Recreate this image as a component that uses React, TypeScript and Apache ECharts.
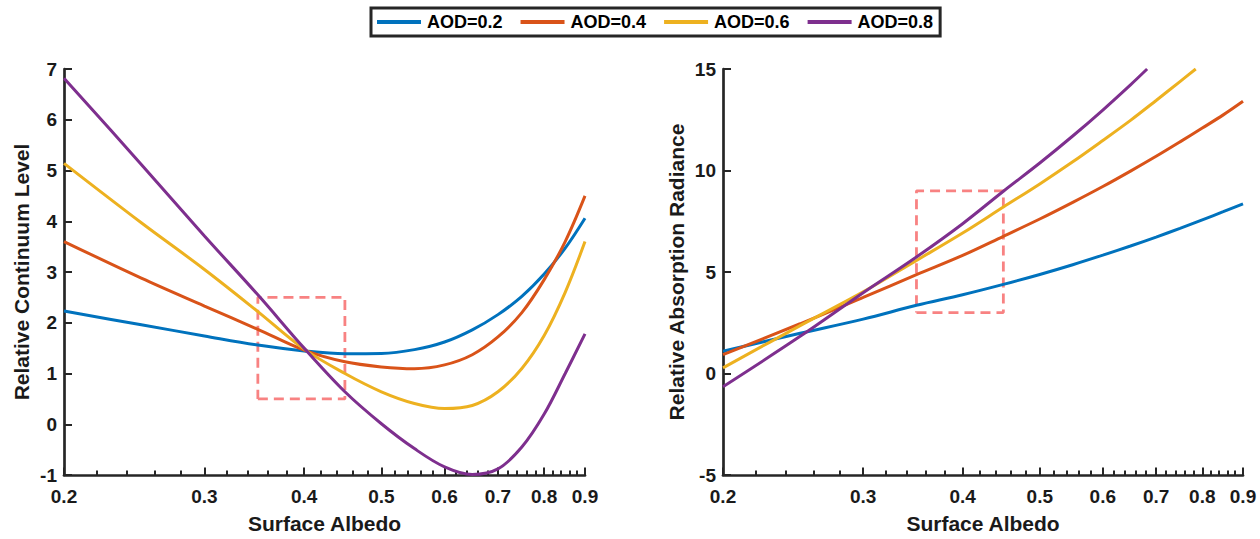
import React, { useEffect, useRef } from "react";
import * as echarts from "echarts";

// ---------- data ----------
const aodNames = ["AOD=0.2", "AOD=0.4", "AOD=0.6", "AOD=0.8"];

// Left panel: Relative Continuum Level vs Surface Albedo
const albedoLeft = [0.2, 0.25, 0.3, 0.35, 0.4, 0.45, 0.5, 0.55, 0.6, 0.65, 0.7, 0.75, 0.8, 0.85, 0.9];
const contAOD02 = [2.23, 1.96, 1.74, 1.56, 1.445, 1.39, 1.395, 1.47, 1.62, 1.86, 2.16, 2.52, 2.96, 3.47, 4.06];
const contAOD04 = [3.6, 2.88, 2.33, 1.87, 1.46, 1.23, 1.13, 1.095, 1.17, 1.37, 1.72, 2.2, 2.85, 3.6, 4.5];
const contAOD06 = [5.14, 3.97, 3.05, 2.22, 1.48, 1.0, 0.64, 0.41, 0.31, 0.37, 0.64, 1.1, 1.75, 2.6, 3.6];
const contAOD08 = [6.82, 5.12, 3.71, 2.55, 1.5, 0.64, 0.01, -0.48, -0.84, -0.99, -0.88, -0.45, 0.2, 1.0, 1.78];

// Right panel: Relative Absorption Radiance vs Surface Albedo
const albedoRight = [0.2, 0.25, 0.3, 0.35, 0.4, 0.45, 0.5, 0.55, 0.6, 0.65, 0.7, 0.75, 0.8, 0.85, 0.9];
const albedoRightAOD06 = [0.2, 0.25, 0.3, 0.35, 0.4, 0.45, 0.5, 0.55, 0.6, 0.65, 0.7, 0.75, 0.785];
const albedoRightAOD08 = [0.2, 0.25, 0.3, 0.35, 0.4, 0.45, 0.5, 0.55, 0.6, 0.65, 0.682];
const radAOD02 = [1.1, 1.98, 2.68, 3.36, 3.88, 4.39, 4.88, 5.36, 5.83, 6.28, 6.72, 7.15, 7.57, 7.97, 8.36];
const radAOD04 = [0.93, 2.45, 3.75, 4.87, 5.82, 6.76, 7.61, 8.43, 9.21, 9.97, 10.7, 11.41, 12.09, 12.74, 13.41];
const radAOD06 = [0.28, 2.36, 4.02, 5.57, 6.92, 8.2, 9.34, 10.43, 11.48, 12.47, 13.45, 14.38, 15.0];
const radAOD08 = [-0.65, 1.83, 3.98, 5.74, 7.38, 8.98, 10.37, 11.7, 12.98, 14.22, 15.0];

// Dashed highlight boxes [albedo, value] corners
const boxLeftX = [0.35, 0.45, 0.45, 0.35, 0.35];
const boxLeftY = [0.5, 0.5, 2.5, 2.5, 0.5];
const boxRightX = [0.35, 0.45, 0.45, 0.35, 0.35];
const boxRightY = [3, 3, 9, 9, 3];

// Axis ticks
const xMajorTicks = [0.2, 0.3, 0.4, 0.5, 0.6, 0.7, 0.8, 0.9];
const xMinorTicks = [
  0.22, 0.24, 0.26, 0.28, 0.32, 0.34, 0.36, 0.38, 0.42, 0.44, 0.46, 0.48,
  0.52, 0.54, 0.56, 0.58, 0.62, 0.64, 0.66, 0.68, 0.72, 0.74, 0.76, 0.78,
  0.82, 0.84, 0.86, 0.88,
];
const xRange = [0.2, 0.9];
const leftYRange = [-1, 7, 1];
const rightYRange = [-5, 15, 5];

// ---------- styles ----------
const FONT = 'Arial, "Liberation Sans", Helvetica, sans-serif';
const AXIS_COLOR = "#262626";
const TEXT_COLOR = "#1a1a1a";
const COLORS = ["#0072BD", "#D95319", "#EDB120", "#7E2F8E"];
const BOX_COLOR = "#F88282";

const zip = (xs: number[], ys: number[]) => ys.map((y, i) => [xs[i], y]);

function makeXAxes(gridIndex: number) {
  const lmin = Math.log(xRange[0]);
  const lmax = Math.log(xRange[1]);
  return [
    {
      type: "log",
      gridIndex,
      logBase: 10,
      min: xRange[0],
      max: xRange[1],
      position: "bottom",
      axisLine: { show: true, onZero: false, lineStyle: { color: AXIS_COLOR, width: 2.7 } },
      axisTick: { show: false },
      axisLabel: { show: false },
      splitLine: { show: false },
      minorTick: { show: false },
      minorSplitLine: { show: false },
    },
    {
      type: "value",
      gridIndex,
      min: lmin,
      max: lmax,
      position: "bottom",
      axisLine: { show: false, onZero: false },
      axisTick: {
        show: true,
        inside: true,
        length: 7.5,
        customValues: xMajorTicks.map((t) => Math.log(t)),
        lineStyle: { color: AXIS_COLOR, width: 2 },
      },
      axisLabel: {
        show: true,
        customValues: xMajorTicks.map((t) => Math.log(t)),
        formatter: (v: number) => String(Number(Math.exp(v).toFixed(1))),
        color: TEXT_COLOR,
        fontFamily: FONT,
        fontWeight: "bold",
        fontSize: 19,
        margin: 12,
      },
      splitLine: { show: false },
      name: "Surface Albedo",
      nameLocation: "middle",
      nameGap: 38,
      nameTextStyle: { color: TEXT_COLOR, fontFamily: FONT, fontWeight: "bold", fontSize: 21 },
    },
    {
      type: "value",
      gridIndex,
      min: lmin,
      max: lmax,
      position: "bottom",
      axisLine: { show: false, onZero: false },
      axisTick: {
        show: true,
        inside: true,
        length: 4.5,
        customValues: xMinorTicks.map((t) => Math.log(t)),
        lineStyle: { color: AXIS_COLOR, width: 2 },
      },
      axisLabel: { show: false },
      splitLine: { show: false },
    },
  ];
}

function makeYAxis(gridIndex: number, range: number[], name: string, nameGap: number) {
  return {
    type: "value",
    gridIndex,
    min: range[0],
    max: range[1],
    interval: range[2],
    axisLine: { show: true, onZero: false, lineStyle: { color: AXIS_COLOR, width: 2.7 } },
    axisTick: { show: true, inside: true, length: 8, lineStyle: { color: AXIS_COLOR, width: 2 } },
    axisLabel: {
      color: TEXT_COLOR,
      fontFamily: FONT,
      fontWeight: "bold",
      fontSize: 19,
      margin: 7,
    },
    splitLine: { show: false },
    name,
    nameLocation: "middle",
    nameGap,
    nameTextStyle: { color: TEXT_COLOR, fontFamily: FONT, fontWeight: "bold", fontSize: 21 },
  };
}

function lineSeries(name: string, color: string, data: number[][], xAxisIndex: number, yAxisIndex: number) {
  return {
    type: "line",
    name,
    xAxisIndex,
    yAxisIndex,
    data,
    smooth: 0.35,
    symbol: "none",
    clip: true,
    lineStyle: { color, width: 3 },
    itemStyle: { color },
    z: 3,
  };
}

function boxSeries(xs: number[], ys: number[], xAxisIndex: number, yAxisIndex: number) {
  return {
    type: "line",
    name: "box",
    xAxisIndex,
    yAxisIndex,
    data: zip(xs, ys),
    smooth: false,
    symbol: "none",
    silent: true,
    lineStyle: { color: BOX_COLOR, width: 2.8, type: [10, 6] },
    itemStyle: { color: BOX_COLOR },
    z: 2,
  };
}

export default function App() {
  const ref = useRef<HTMLDivElement>(null);

  useEffect(() => {
    if (!ref.current) return;
    const chart = echarts.init(ref.current, null, { renderer: "svg" });
    const leftData = [contAOD02, contAOD04, contAOD06, contAOD08].map((ys) => zip(albedoLeft, ys));
    const rightData = [
      zip(albedoRight, radAOD02),
      zip(albedoRight, radAOD04),
      zip(albedoRightAOD06, radAOD06),
      zip(albedoRightAOD08, radAOD08),
    ];
    const option: any = {
      animation: false,
      backgroundColor: "#ffffff",
      textStyle: { fontFamily: FONT },
      legend: {
        data: aodNames,
        left: 371,
        top: 8,
        orient: "horizontal",
        icon: "rect",
        itemWidth: 44,
        itemHeight: 4,
        itemGap: 18,
        padding: [5, 7, 5, 6],
        borderColor: "#262626",
        borderWidth: 3,
        backgroundColor: "#ffffff",
        textStyle: { fontFamily: FONT, fontWeight: "bold", fontSize: 18, color: "#000", padding: [0, 0, 0, 1] },
      },
      grid: [
        { left: 64, right: 1260 - 585, top: 69, bottom: 539 - 476, containLabel: false },
        { left: 723, right: 1260 - 1243, top: 69, bottom: 539 - 477, containLabel: false },
      ],
      xAxis: [...makeXAxes(0), ...makeXAxes(1)],
      yAxis: [
        makeYAxis(0, leftYRange, "Relative Continuum Level", 32),
        makeYAxis(1, rightYRange, "Relative Absorption Radiance", 36),
      ],
      series: [
        boxSeries(boxLeftX, boxLeftY, 0, 0),
        boxSeries(boxRightX, boxRightY, 3, 1),
        ...aodNames.map((n, i) => lineSeries(n, COLORS[i], leftData[i], 0, 0)),
        ...aodNames.map((n, i) => lineSeries(n, COLORS[i], rightData[i], 3, 1)),
      ],
    };
    chart.setOption(option);
    return () => chart.dispose();
  }, []);

  return (
    <div
      ref={ref}
      style={{ position: "fixed", left: 0, top: 0, width: 1260, height: 539, background: "#fff" }}
    />
  );
}
